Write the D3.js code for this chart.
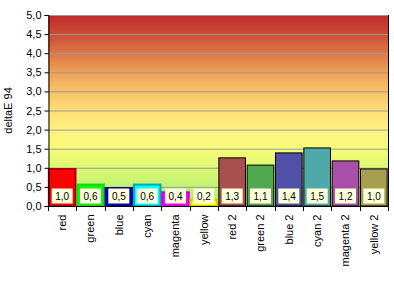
<!DOCTYPE html>
<html><head><meta charset="utf-8">
<script src="https://cdn.jsdelivr.net/npm/d3@7"></script>
<style>body{margin:0;background:#fff}svg{display:block}text{font-family:Arial,"Liberation Sans",sans-serif}</style>
</head><body><svg id="c" width="394" height="284"></svg>
<script>
const categories = ["red","green","blue","cyan","magenta","yellow","red 2","green 2","blue 2","cyan 2","magenta 2","yellow 2"];
const values = [0.97,0.56,0.47,0.56,0.36,0.16,1.26,1.07,1.39,1.52,1.18,0.97];
const fills = ["#ff0000","#00ff00","#0000cc","#00ffff","#ff00ff","#ffff00","#a85050","#50a850","#5050a8","#50a8a8","#a850a8","#a8a050"];
const strokes = ["#aa0000","#22cc22","#000088","#00aaaa","#cc00cc","#cccc00","#000000","#000000","#000000","#000000","#000000","#000000"];
const yTicks = [0,0.5,1,1.5,2,2.5,3,3.5,4,4.5,5];
const yTitle = "deltaE 94";

const svg = d3.select("#c");
const m = {l:48, r:388, t:15, b:206};
const x = d3.scaleBand().domain(categories).range([m.l, m.r]).paddingInner(0.06).paddingOuter(0.03);
const y = d3.scaleLinear().domain([0,5]).range([m.b, m.t]);
const fmt = v => d3.format(".1f")(v).replace(".", ",");

const defs = svg.append("defs");
const g = defs.append("linearGradient").attr("id","bg").attr("x1",0).attr("y1",0).attr("x2",0).attr("y2",1);
[[0,"#bf2c2c"],[0.1,"#cc4c36"],[0.2,"#dc7844"],[0.3,"#eea058"],[0.4,"#f8c268"],[0.5,"#fedf78"],[0.6,"#fff180"],[0.7,"#f6fb78"],[0.8,"#dcf872"],[0.9,"#c0f474"],[1,"#a2ee80"]]
  .forEach(s => g.append("stop").attr("offset",s[0]).attr("stop-color",s[1]));
svg.append("rect").attr("x",m.l).attr("y",m.t).attr("width",m.r-m.l).attr("height",m.b-m.t).attr("fill","url(#bg)");

svg.append("g").selectAll("line").data(yTicks.filter(d=>d>0)).join("line")
  .attr("x1",m.l).attr("x2",m.r).attr("y1",d=>y(d)+0.5).attr("y2",d=>y(d)+0.5)
  .attr("stroke","#9a9a9a").attr("stroke-width",1);

svg.append("g").selectAll("rect").data(values).join("rect")
  .attr("x",(d,i)=>x(categories[i])).attr("width",x.bandwidth())
  .attr("y",d=>y(d)).attr("height",d=>y(0)-y(d))
  .attr("fill",(d,i)=>fills[i]).attr("stroke",(d,i)=>strokes[i])
  .attr("stroke-width",(d,i)=>i<6?2:1);

const lab = svg.append("g").selectAll("g").data(values).join("g")
  .attr("transform",(d,i)=>`translate(${x(categories[i])+x.bandwidth()/2},196)`);
lab.append("rect").attr("x",-10.5).attr("y",-7.5).attr("width",21).attr("height",15).attr("fill","#ffffdc");
lab.append("text").attr("text-anchor","middle").attr("dy","0.35em").attr("font-size",10).attr("fill","#000").text(d=>fmt(d));

svg.append("line").attr("x1",m.r+0.5).attr("x2",m.r+0.5).attr("y1",m.t).attr("y2",m.b).attr("stroke","#000");

const ya = svg.append("g").attr("transform",`translate(${m.l+0.5},0)`)
  .call(d3.axisLeft(y).tickValues(yTicks).tickFormat(fmt).tickSize(4).tickPadding(3));
ya.selectAll("text").attr("font-size",11).attr("fill","#000").attr("font-family","Arial, 'Liberation Sans', sans-serif");
ya.selectAll("line,path").attr("stroke","#000");

const xa = svg.append("g").attr("transform",`translate(0,${m.b+0.5})`)
  .call(d3.axisBottom(x).tickSize(0).tickFormat(d=>d));
xa.select("path").attr("stroke","#000").attr("d",`M${m.l},0H${m.r+1}`);
xa.selectAll(".tick text").attr("font-size",11).attr("fill","#000").attr("font-family","Arial, 'Liberation Sans', sans-serif")
  .attr("transform","rotate(-90)").attr("text-anchor","end").attr("x",-8).attr("y",0).attr("dy","0.35em");
const bounds = d3.range(categories.length+1).map(i => m.l + i*(m.r-m.l)/categories.length);
svg.append("g").selectAll("line").data(bounds).join("line")
  .attr("x1",d=>Math.round(d)+0.5).attr("x2",d=>Math.round(d)+0.5).attr("y1",m.b).attr("y2",m.b+5).attr("stroke","#000");

svg.append("text").attr("transform",`translate(12,${(m.t+m.b)/2}) rotate(-90)`)
  .attr("text-anchor","middle").attr("font-size",11).attr("fill","#000").text(yTitle);
</script></body></html>
